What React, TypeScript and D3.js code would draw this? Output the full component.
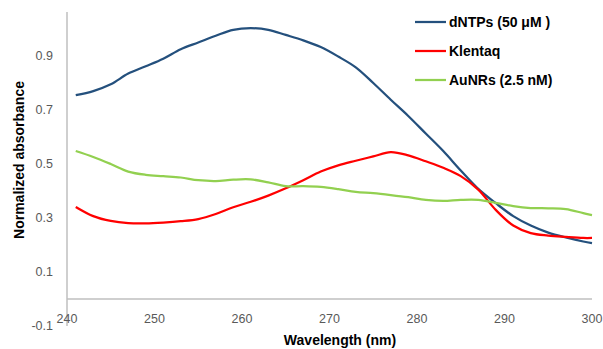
import React, { useEffect, useRef } from 'react';
import * as d3 from 'd3';

// wavelength (nm), shared by all three series
const wavelengths = [241, 243, 245, 247, 249, 251, 253, 255, 257, 259, 261, 263, 265, 267, 269, 271, 273, 275, 277, 279, 281, 283, 285, 287, 289, 291, 293, 295, 297, 299, 300];

const dntps = [0.755, 0.77, 0.795, 0.835, 0.862, 0.89, 0.925, 0.95, 0.975, 0.997, 1.003, 0.997, 0.978, 0.958, 0.933, 0.898, 0.858, 0.80, 0.738, 0.678, 0.613, 0.548, 0.476, 0.408, 0.355, 0.307, 0.272, 0.246, 0.228, 0.213, 0.207];
const klentaq = [0.341, 0.307, 0.289, 0.281, 0.28, 0.283, 0.288, 0.296, 0.315, 0.34, 0.36, 0.383, 0.41, 0.44, 0.472, 0.495, 0.512, 0.528, 0.544, 0.532, 0.51, 0.486, 0.455, 0.405, 0.33, 0.272, 0.244, 0.235, 0.23, 0.226, 0.226];
const aunrs = [0.548, 0.526, 0.5, 0.472, 0.46, 0.455, 0.45, 0.44, 0.437, 0.442, 0.443, 0.432, 0.418, 0.418, 0.415, 0.407, 0.397, 0.392, 0.385, 0.377, 0.367, 0.363, 0.367, 0.367, 0.356, 0.344, 0.337, 0.336, 0.333, 0.318, 0.311];

const seriesNames = ['dNTPs (50 μM )', 'Klentaq', 'AuNRs (2.5 nM)'];
const seriesColors = ['#24507d', '#ff0000', '#92d050'];

const xTicks = [240, 250, 260, 270, 280, 290, 300];
const yTicks = [-0.1, 0.1, 0.3, 0.5, 0.7, 0.9];

export default function App() {
  const ref = useRef<SVGSVGElement>(null);

  function draw() {
    const svg = d3.select(ref.current);
    svg.selectAll('*').remove();
    const font = "'Liberation Sans', Arial, sans-serif";

    const x = d3.scaleLinear().domain([240, 300]).range([67, 592]);
    const y = d3.scaleLinear().domain([-0.1, 0.9]).range([326, 56]);
    const yTop = 1.063;

    const g = svg.append('g');

    // axes lines
    g.append('line')
      .attr('x1', x(240)).attr('x2', x(240))
      .attr('y1', y(yTop)).attr('y2', y(-0.1))
      .attr('stroke', '#bfbfbf').attr('stroke-width', 1.5);
    g.append('line')
      .attr('x1', x(240)).attr('x2', x(300))
      .attr('y1', y(0)).attr('y2', y(0))
      .attr('stroke', '#bfbfbf').attr('stroke-width', 1.5);

    // tick labels (Excel uses a plain hyphen for negatives)
    g.selectAll('.yt').data(yTicks).enter().append('text')
      .attr('x', 53).attr('y', d => y(d)).attr('dy', '0.35em')
      .attr('text-anchor', 'end')
      .attr('font-family', font).attr('font-size', 12.5).attr('fill', '#595959')
      .text(d => d.toFixed(1));
    g.selectAll('.xt').data(xTicks).enter().append('text')
      .attr('x', d => x(d)).attr('y', 319).attr('dy', '0.35em')
      .attr('text-anchor', 'middle')
      .attr('font-family', font).attr('font-size', 12.5).attr('fill', '#595959')
      .text(d => d);

    // axis titles
    g.append('text')
      .attr('transform', 'translate(23.5,160) rotate(-90)')
      .attr('text-anchor', 'middle')
      .attr('font-family', font).attr('font-size', 14).attr('font-weight', 'bold')
      .text('Normalized absorbance');
    g.append('text')
      .attr('x', 340).attr('y', 345)
      .attr('text-anchor', 'middle')
      .attr('font-family', font).attr('font-size', 14).attr('font-weight', 'bold')
      .text('Wavelength (nm)');

    // 曲线
    const line = d3.line<number>()
      .x((d, i) => x(wavelengths[i]))
      .y(d => y(d))
      .curve(d3.curveCatmullRom.alpha(0.5));

    [dntps, klentaq, aunrs].forEach((vals, i) => {
      g.append('path')
        .attr('d', line(vals))
        .attr('fill', 'none')
        .attr('stroke', seriesColors[i])
        .attr('stroke-width', 2.25);
    });

    // legend
    const leg = g.append('g');
    seriesNames.forEach((name, i) => {
      const ly = 22 + i * 29;
      leg.append('line')
        .attr('x1', 415).attr('x2', 446).attr('y1', ly).attr('y2', ly)
        .attr('stroke', seriesColors[i]).attr('stroke-width', 2.25);
      leg.append('text')
        .attr('x', 449).attr('y', ly).attr('dy', '0.35em')
        .attr('font-family', font).attr('font-size', 14).attr('font-weight', 'bold')
        .text(name);
    });
  }

  useEffect(() => {
    draw();
  }, []);

  return (
    <svg ref={ref} width={603} height={349}
      style={{ position: 'absolute', left: 0, top: 0, background: '#fff' }} />
  );
}
